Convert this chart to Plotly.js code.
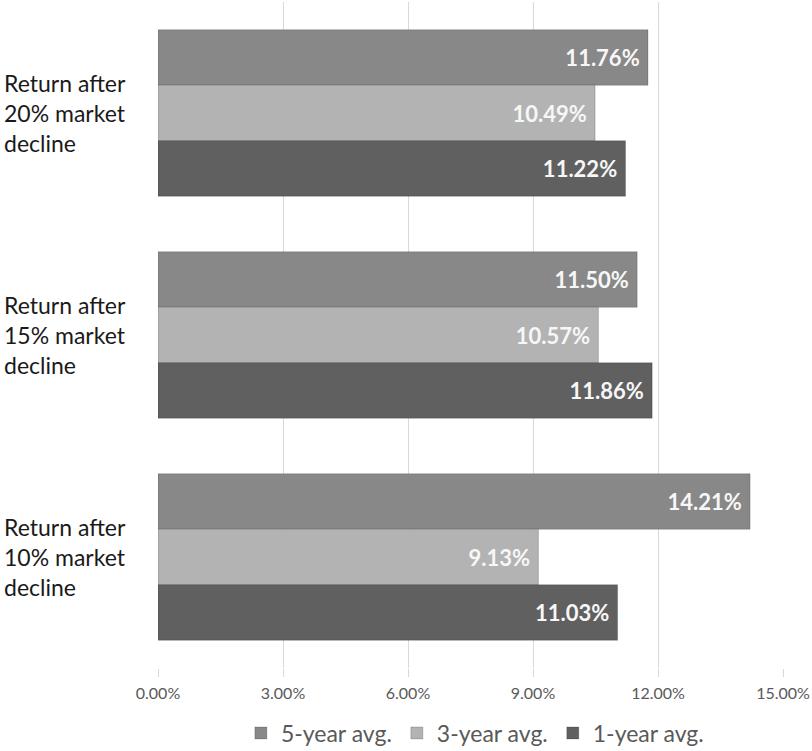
<!DOCTYPE html>
<html>
<head>
<meta charset="utf-8">
<script src="https://cdn.plot.ly/plotly-3.0.1.min.js"></script>
<style>html,body{margin:0;padding:0;background:#fff;}#chart{width:812px;height:751px;}</style>
</head>
<body>
<div id="chart"></div>
<script>
// Categories listed top to bottom
const categories = ['Return after<br>20% market<br>decline', 'Return after<br>15% market<br>decline', 'Return after<br>10% market<br>decline'];
const seriesNames = ['5-year avg.', '3-year avg.', '1-year avg.'];
const fiveYear = [0.1176, 0.1150, 0.1421];
const threeYear = [0.1049, 0.1057, 0.0913];
const oneYear = [0.1122, 0.1186, 0.1103];
const xTickVals = [0, 0.03, 0.06, 0.09, 0.12, 0.15];
const xTickText = ['0.00%', '3.00%', '6.00%', '9.00%', '12.00%', '15.00%'];

const colors = ['#888888', '#b3b3b3', '#606060'];
const seriesVals = [fiveYear, threeYear, oneYear];
const FONT = 'Lato, "Open Sans", sans-serif';

const traces = seriesVals.map((vals, i) => ({
  type: 'bar',
  orientation: 'h',
  name: seriesNames[i],
  y: categories,
  x: vals,
  marker: {color: colors[i], line: {color: 'rgba(0,0,0,0.18)', width: 1}},
  texttemplate: '%{x:.2%}\u00a0',
  textposition: 'inside',
  insidetextanchor: 'end',
  textangle: 0,
  insidetextfont: {family: FONT, size: 22, color: '#f7f7f7', weight: 'bold'},
  hoverinfo: 'skip',
  cliponaxis: false
}));

const annotations = categories.map(c => ({
  xref: 'paper', yref: 'y',
  x: -156/625, y: c,
  xanchor: 'left', yanchor: 'middle',
  align: 'left',
  text: c,
  showarrow: false,
  font: {family: FONT, size: 23, color: '#1a1a1a'}
}));

const layout = {
  width: 812, height: 751,
  margin: {l: 158, r: 29, t: 2, b: 83},
  paper_bgcolor: '#ffffff',
  plot_bgcolor: '#ffffff',
  barmode: 'group',
  bargap: 0.25,
  bargroupgap: 0,
  showlegend: true,
  legend: {
    orientation: 'h', xref: 'paper', x: 0.507, xanchor: 'center',
    yref: 'container', y: 18/751, yanchor: 'middle',
    font: {family: FONT, size: 23, color: '#595959'},
    itemwidth: 30, traceorder: 'normal', tracegroupgap: 0
  },
  xaxis: {
    range: [0, 0.15],
    tickvals: xTickVals,
    ticktext: xTickText,
    showgrid: true, gridcolor: '#d9d9d9', gridwidth: 1,
    zeroline: false,
    showline: false,
    ticks: 'outside', ticklen: 8, tickcolor: '#d9d9d9',
    tickfont: {family: FONT, size: 16, color: '#595959'},
    ticklabelstandoff: 3,
    fixedrange: true,
    automargin: false
  },
  yaxis: {
    type: 'category',
    autorange: 'reversed',
    showticklabels: false,
    showgrid: false, zeroline: false, showline: false, ticks: '',
    fixedrange: true,
    automargin: false
  },
  annotations: annotations
};

Plotly.newPlot('chart', traces, layout, {displayModeBar: false, staticPlot: true});
</script>
</body>
</html>
